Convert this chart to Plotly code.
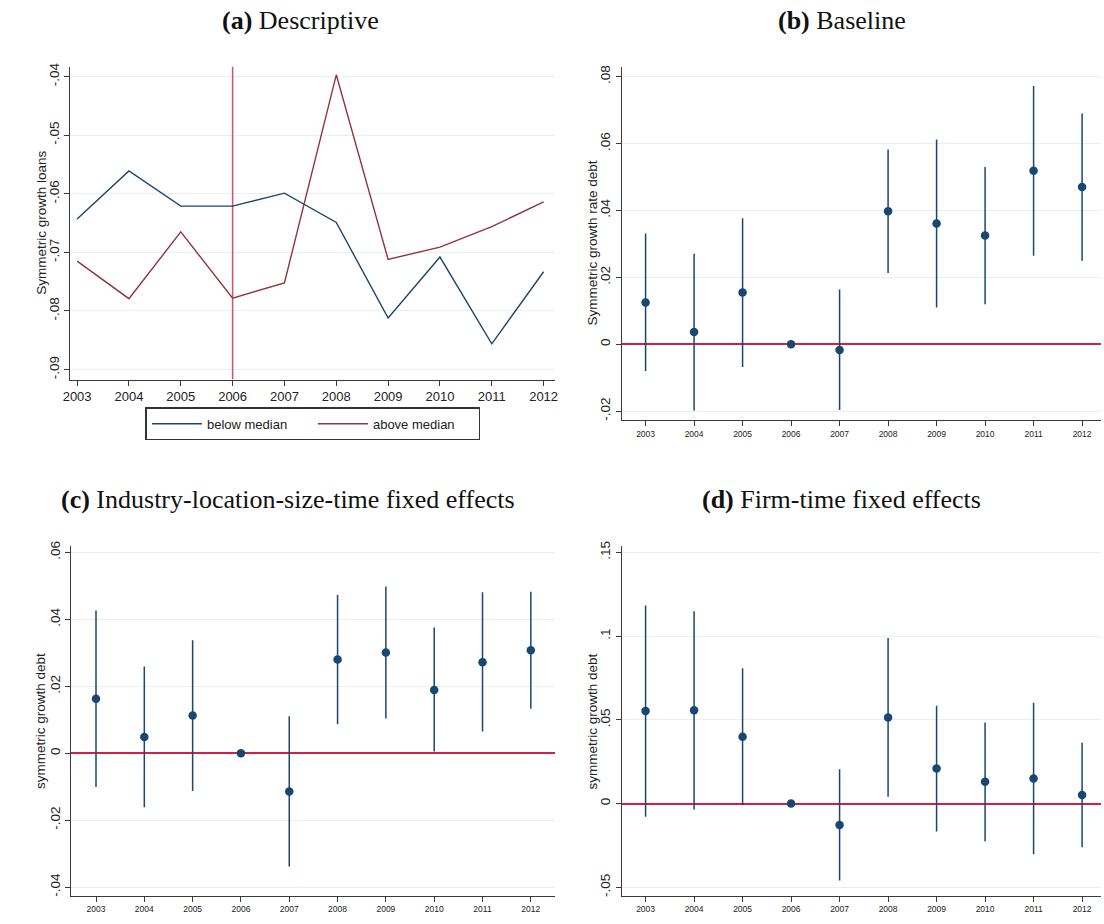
import plotly.graph_objects as go

# ---------------- data ----------------
years = [2003, 2004, 2005, 2006, 2007, 2008, 2009, 2010, 2011, 2012]

# (a) Descriptive
below_median = [-0.0643, -0.0561, -0.0621, -0.0621, -0.0599, -0.0649, -0.0812, -0.0708, -0.0856, -0.0733]
above_median = [-0.0715, -0.0779, -0.0665, -0.0778, -0.0752, -0.0397, -0.0712, -0.0691, -0.0656, -0.0614]
ref_year = 2006

# (b) Baseline
b_coef = [0.0125, 0.0037, 0.0155, 0.0, -0.0017, 0.0398, 0.0361, 0.0325, 0.0519, 0.0470]
b_hi = [0.0331, 0.0271, 0.0377, 0.0, 0.0164, 0.0582, 0.0612, 0.0530, 0.0772, 0.0690]
b_lo = [-0.0080, -0.0198, -0.0068, 0.0, -0.0196, 0.0213, 0.0110, 0.0120, 0.0265, 0.0250]

# (c) Industry-location-size-time fixed effects
c_coef = [0.0163, 0.0049, 0.0113, 0.0, -0.0114, 0.0280, 0.0301, 0.0189, 0.0272, 0.0308]
c_hi = [0.0427, 0.0259, 0.0338, 0.0, 0.0111, 0.0473, 0.0498, 0.0376, 0.0481, 0.0483]
c_lo = [-0.0101, -0.0161, -0.0113, 0.0, -0.0338, 0.0087, 0.0104, 0.0005, 0.0065, 0.0133]

# (d) Firm-time fixed effects
d_coef = [0.0553, 0.0557, 0.0399, 0.0, -0.0128, 0.0515, 0.0209, 0.0130, 0.0150, 0.0051]
d_hi = [0.1183, 0.1149, 0.0809, 0.0, 0.0205, 0.0989, 0.0584, 0.0484, 0.0602, 0.0363]
d_lo = [-0.0079, -0.0036, -0.0010, 0.0, -0.0460, 0.0041, -0.0166, -0.0225, -0.0302, -0.0261]

a_ticks = [-0.09, -0.08, -0.07, -0.06, -0.05, -0.04]
a_ticktext = ["-.09", "-.08", "-.07", "-.06", "-.05", "-.04"]
b_ticks = [-0.02, 0, 0.02, 0.04, 0.06, 0.08]
b_ticktext = ["-.02", "0", ".02", ".04", ".06", ".08"]
c_ticks = [-0.04, -0.02, 0, 0.02, 0.04, 0.06]
c_ticktext = ["-.04", "-.02", "0", ".02", ".04", ".06"]
d_ticks = [-0.05, 0, 0.05, 0.1, 0.15]
d_ticktext = ["-.05", "0", ".05", ".1", ".15"]

titles = ["<b>(a)</b> Descriptive", "<b>(b)</b> Baseline",
          "<b>(c)</b> Industry-location-size-time fixed effects",
          "<b>(d)</b> Firm-time fixed effects"]
ytitles = ["Symmetric growth loans", "Symmetric growth rate debt",
           "symmetric growth debt", "symmetric growth debt"]

# ---------------- styling ----------------
W, H = 1104, 924
NAVY = "#1a476f"
MAROON = "#90353b"
REF = "#d21f47"
REF_A = "#d4506c"
GRID = "#e8f0f2"
AX = "#3a3a3a"
SANS = "Liberation Sans, Arial, sans-serif"
SERIF = "Liberation Serif, Times New Roman, serif"

A_YRANGE = [-0.0917, -0.0383]

def px_x(a, b):
    return [a / W, b / W]

def px_y(top, bottom):
    return [1 - bottom / H, 1 - top / H]

fig = go.Figure()

# (a) vertical reference line at the base year, spanning the panel
fig.add_trace(go.Scatter(x=[ref_year, ref_year], y=A_YRANGE, mode="lines", showlegend=False,
                         line=dict(color=REF_A, width=1.5), hoverinfo="skip",
                         xaxis="x", yaxis="y"))
fig.add_trace(go.Scatter(x=years, y=below_median, mode="lines", name="below median",
                         line=dict(color=NAVY, width=1.4), xaxis="x", yaxis="y"))
fig.add_trace(go.Scatter(x=years, y=above_median, mode="lines", name="above median",
                         line=dict(color=MAROON, width=1.4), xaxis="x", yaxis="y"))

def ci_trace(coef, hi, lo, xa, ya):
    return go.Scatter(
        x=years, y=coef, mode="markers", showlegend=False,
        marker=dict(color=NAVY, size=8.5),
        error_y=dict(type="data", symmetric=False,
                     array=[h - c for h, c in zip(hi, coef)],
                     arrayminus=[c - l for c, l in zip(coef, lo)],
                     color=NAVY, thickness=1.5, width=0),
        xaxis=xa, yaxis=ya)

fig.add_trace(ci_trace(b_coef, b_hi, b_lo, "x2", "y2"))
fig.add_trace(ci_trace(c_coef, c_hi, c_lo, "x3", "y3"))
fig.add_trace(ci_trace(d_coef, d_hi, d_lo, "x4", "y4"))

def yax(domain, rng, tv, tt, anchor, zl=False):
    return dict(domain=domain, range=rng, tickvals=tv, ticktext=tt, tickangle=-90,
                showgrid=True, gridcolor=GRID, gridwidth=1,
                zeroline=zl, zerolinecolor=REF, zerolinewidth=1.5,
                showline=True, linecolor=AX, linewidth=1.2, ticks="outside",
                ticklen=5, tickcolor=AX, tickfont=dict(family=SANS, size=13.5, color="#222"),
                anchor=anchor)

def xax(domain, rng, size, anchor):
    return dict(domain=domain, range=rng, tickvals=years, ticktext=[str(y) for y in years],
                showgrid=False, zeroline=False, showline=True, linecolor=AX, linewidth=1.2,
                ticks="outside", ticklen=5, tickcolor=AX,
                tickfont=dict(family=SANS, size=size, color="#222"), anchor=anchor)

fig.update_layout(
    width=W, height=H, margin=dict(l=0, r=0, t=0, b=0),
    paper_bgcolor="white", plot_bgcolor="white",
    xaxis=xax(px_x(63, 552), [2002.87, 2012.21], 13, "y"),
    yaxis=yax(px_y(62, 377), A_YRANGE, a_ticks, a_ticktext, "x"),
    xaxis2=xax(px_x(620, 1104), [2002.51, 2012.39], 8.5, "y2"),
    yaxis2=yax(px_y(62, 418), [-0.0227, 0.083], b_ticks, b_ticktext, "x2", True),
    xaxis3=xax(px_x(64, 552), [2002.49, 2012.49], 8.5, "y3"),
    yaxis3=yax(px_y(545, 897), [-0.0427, 0.0618], c_ticks, c_ticktext, "x3", True),
    xaxis4=xax(px_x(620, 1104), [2002.51, 2012.39], 8.5, "y4"),
    yaxis4=yax(px_y(545, 897), [-0.0553, 0.1536], d_ticks, d_ticktext, "x4", True),
    legend=dict(orientation="h", x=308 / W, y=1 - 421.5 / H, xanchor="center", yanchor="middle",
                bordercolor="#333", borderwidth=1.5, bgcolor="white",
                font=dict(family=SANS, size=13, color="#222"), itemwidth=50,
                entrywidth=101, entrywidthmode="pixels"),
    showlegend=True,
)

# titles
title_pos = [(295, 16), (842, 16), (283, 498), (842, 498)]
for t, (x, y) in zip(titles, title_pos):
    fig.add_annotation(text=t, x=x / W, y=1 - y / H, xref="paper", yref="paper",
                       showarrow=False, xanchor="center", yanchor="middle",
                       font=dict(family=SERIF, size=26, color="#111"))

# y-axis titles
ytitle_pos = [(33, 219.5), (590, 240), (33, 721), (590, 721)]
for t, (x, y) in zip(ytitles, ytitle_pos):
    fig.add_annotation(text=t, x=x / W, y=1 - y / H, xref="paper", yref="paper",
                       showarrow=False, xanchor="center", yanchor="middle", textangle=-90,
                       font=dict(family=SANS, size=13.5, color="#222"))

fig.write_html("out.html", config={"displayModeBar": False},
               post_script="document.body.style.margin='0';")
